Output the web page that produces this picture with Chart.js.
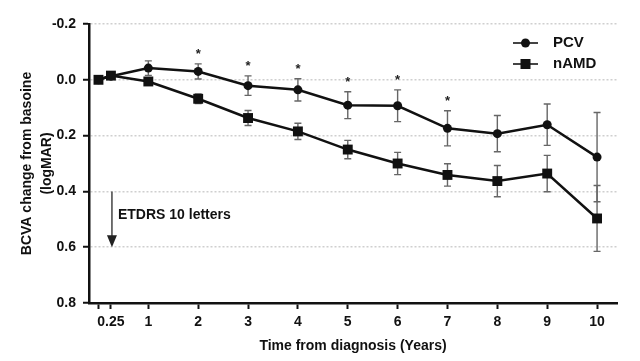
<!DOCTYPE html>
<html>
<head>
<meta charset="utf-8">
<title>BCVA change from baseline</title>
<script src="https://cdn.jsdelivr.net/npm/chart.js@4.4.1/dist/chart.umd.min.js"></script>
<style>
    html, body { margin: 0; padding: 0; background: #fff; }
    #wrap { width: 640px; height: 361px; }
</style>
</head>
<body>
<div id="wrap"><canvas id="bcvaChart"></canvas></div>
<script>
// Data
const years = [0, 0.25, 1, 2, 3, 4, 5, 6, 7, 8, 9, 10];
const pcvMean = [0, -0.013, -0.042, -0.030, 0.021, 0.036, 0.091, 0.093, 0.174, 0.193, 0.161, 0.277];
const pcvErr = [0, 0.008, 0.026, 0.027, 0.035, 0.040, 0.048, 0.057, 0.063, 0.065, 0.074, 0.160];
const namdMean = [0, -0.015, 0.006, 0.068, 0.137, 0.185, 0.250, 0.300, 0.341, 0.363, 0.336, 0.497];
const namdErr = [0, 0.008, 0.010, 0.017, 0.027, 0.029, 0.033, 0.040, 0.040, 0.056, 0.065, 0.118];
const sigYears = [2, 3, 4, 5, 6, 7];

// Axis ticks
const xTicks = [0, 0.25, 1, 2, 3, 4, 5, 6, 7, 8, 9, 10];
const xTickLabels = ['', '0.25', '1', '2', '3', '4', '5', '6', '7', '8', '9', '10'];
const yTicks = [-0.2, 0, 0.2, 0.4, 0.6, 0.8];

// Annotation
const arrowYear = 0.25;
const arrowFrom = 0.4;
const arrowTo = 0.6;
const arrowText = 'ETDRS 10 letters';

const FONT = "'Liberation Sans', Arial, sans-serif";
const INK = '#111';

function toPoints(means) {
    return years.map((x, i) => ({ x: x, y: means[i] }));
}

// Error bars + significance stars
const errorBarPlugin = {
    id: 'errorBars',
    beforeDatasetsDraw(chart) {
        const ctx = chart.ctx;
        const xs = chart.scales.x, ys = chart.scales.y;
        const sets = [[pcvMean, pcvErr], [namdMean, namdErr]];
        ctx.save();
        ctx.strokeStyle = '#666';
        ctx.lineWidth = 1.4;
        sets.forEach(([m, e]) => {
            years.forEach((yr, i) => {
                if (!e[i]) return;
                const px = xs.getPixelForValue(yr);
                const top = ys.getPixelForValue(m[i] - e[i]);
                const bot = ys.getPixelForValue(m[i] + e[i]);
                ctx.beginPath();
                ctx.moveTo(px, top); ctx.lineTo(px, bot);
                ctx.moveTo(px - 3.5, top); ctx.lineTo(px + 3.5, top);
                ctx.moveTo(px - 3.5, bot); ctx.lineTo(px + 3.5, bot);
                ctx.stroke();
            });
        });
        ctx.restore();
    },
    afterDatasetsDraw(chart) {
        const ctx = chart.ctx;
        const xs = chart.scales.x, ys = chart.scales.y;
        ctx.save();
        ctx.fillStyle = '#222';
        ctx.font = 'bold 13px ' + FONT;
        ctx.textAlign = 'center';
        ctx.textBaseline = 'alphabetic';
        sigYears.forEach(yr => {
            const i = years.indexOf(yr);
            const px = xs.getPixelForValue(yr);
            const py = ys.getPixelForValue(pcvMean[i] - pcvErr[i]) - 14;
            ctx.fillText('*', px, py + 8);
        });
        ctx.restore();
    }
};

// Arrow + label, legend in the top right corner
const overlayPlugin = {
    id: 'overlay',
    afterDraw(chart) {
        const ctx = chart.ctx;
        const xs = chart.scales.x, ys = chart.scales.y;
        const area = chart.chartArea;
        ctx.save();

        // ETDRS arrow
        const ax = xs.getPixelForValue(arrowYear) + 1;
        const a0 = ys.getPixelForValue(arrowFrom);
        const a1 = ys.getPixelForValue(arrowTo);
        ctx.strokeStyle = '#444';
        ctx.fillStyle = '#222';
        ctx.lineWidth = 1.5;
        ctx.beginPath();
        ctx.moveTo(ax, a0);
        ctx.lineTo(ax, a1 - 10);
        ctx.stroke();
        ctx.beginPath();
        ctx.moveTo(ax - 5, a1 - 12);
        ctx.lineTo(ax + 5, a1 - 12);
        ctx.lineTo(ax, a1);
        ctx.closePath();
        ctx.fill();

        ctx.fillStyle = INK;
        ctx.font = 'bold 14px ' + FONT;
        ctx.textAlign = 'left';
        ctx.textBaseline = 'middle';
        ctx.fillText(arrowText, ax + 6, (a0 + a1) / 2 - 4);

        // Legend
        chart.data.datasets.forEach((ds, i) => {
            const ly = area.top + 19 + i * 21;
            const lx = area.right - 104;
            ctx.strokeStyle = '#444';
            ctx.lineWidth = 2;
            ctx.beginPath();
            ctx.moveTo(lx, ly);
            ctx.lineTo(lx + 25, ly);
            ctx.stroke();
            ctx.fillStyle = INK;
            if (ds.pointStyle === 'rect') {
                ctx.fillRect(lx + 12.5 - 5, ly - 5, 10, 10);
            } else {
                ctx.beginPath();
                ctx.arc(lx + 12.5, ly, 4.5, 0, Math.PI * 2);
                ctx.fill();
            }
            ctx.font = 'bold 15px ' + FONT;
            ctx.textAlign = 'left';
            ctx.textBaseline = 'middle';
            ctx.fillText(ds.label, lx + 40, ly);
        });
        ctx.restore();
    }
};

const canvas = document.getElementById('bcvaChart');
new Chart(canvas.getContext('2d'), {
    type: 'line',
    data: {
        datasets: [{
            label: 'PCV',
            data: toPoints(pcvMean),
            borderColor: INK,
            backgroundColor: INK,
            borderWidth: 2.5,
            pointStyle: 'circle',
            pointRadius: 4.5,
            pointBorderWidth: 0,
            tension: 0
        }, {
            label: 'nAMD',
            data: toPoints(namdMean),
            borderColor: INK,
            backgroundColor: INK,
            borderWidth: 2.5,
            pointStyle: 'rect',
            pointRadius: 7,
            pointBorderWidth: 0,
            tension: 0
        }]
    },
    options: {
        responsive: true,
        maintainAspectRatio: false,
        animation: false,
        devicePixelRatio: 1,
        layout: { padding: { top: 24, right: 23, left: 0, bottom: 0 } },
        plugins: {
            legend: { display: false },
            tooltip: { enabled: false }
        },
        scales: {
            x: {
                type: 'linear',
                min: -0.19,
                max: 10.4,
                afterBuildTicks: s => { s.ticks = xTicks.map(v => ({ value: v })); },
                afterFit: s => { s.height = 58; },
                ticks: {
                    autoSkip: false,
                    maxRotation: 0,
                    padding: 5,
                    color: INK,
                    font: { family: FONT, size: 14, weight: 'bold' },
                    callback: v => xTickLabels[xTicks.indexOf(v)]
                },
                grid: {
                    drawOnChartArea: false,
                    drawTicks: true,
                    tickLength: 6,
                    tickColor: INK,
                    tickWidth: 2
                },
                border: { color: INK, width: 2.5 },
                title: {
                    display: true,
                    text: 'Time from diagnosis (Years)',
                    color: INK,
                    font: { family: FONT, size: 14, weight: 'bold', lineHeight: 1.43 },
                    padding: { top: 0, bottom: 5 }
                }
            },
            y: {
                reverse: true,
                min: -0.2,
                max: 0.8,
                afterBuildTicks: s => { s.ticks = yTicks.map(v => ({ value: v })); },
                afterFit: s => { s.width = 89; },
                ticks: {
                    padding: 7,
                    color: INK,
                    font: { family: FONT, size: 14, weight: 'bold' },
                    callback: v => v.toFixed(1)
                },
                grid: {
                    color: '#cfcfcf',
                    lineWidth: 1.5,
                    drawTicks: true,
                    tickLength: 6,
                    tickColor: INK,
                    tickWidth: 2,
                    tickBorderDash: []
                },
                border: { color: INK, width: 2.5, dash: [2, 2] },
                title: {
                    display: true,
                    text: ['BCVA change from basoine', '(logMAR)'],
                    color: INK,
                    font: { family: FONT, size: 14, weight: 'bold', lineHeight: 1.43 },
                    padding: { top: 17, bottom: 0 }
                }
            }
        }
    },
    plugins: [errorBarPlugin, overlayPlugin]
});
</script>
</body>
</html>
